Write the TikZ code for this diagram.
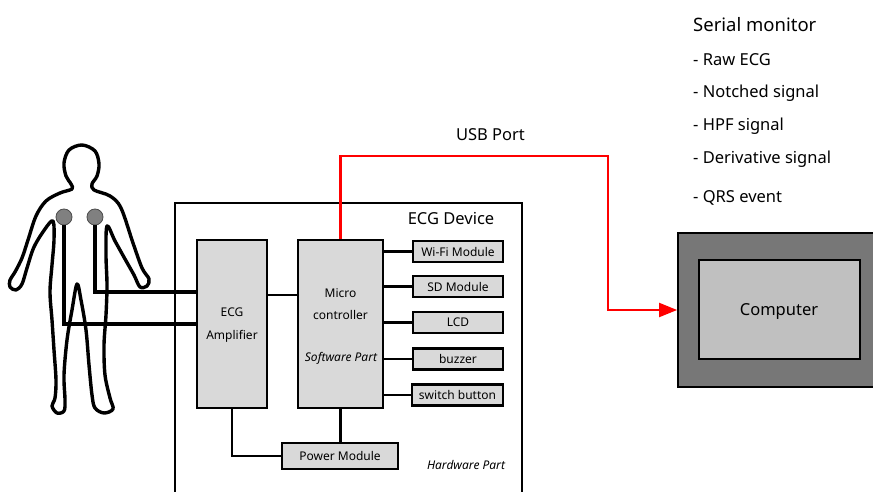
\documentclass[tikz,border=0pt]{standalone}
\usepackage{fontspec}
\setmainfont{Noto Sans}
\usetikzlibrary{arrows.meta}

\definecolor{boxgray}{HTML}{D9D9D9}
\definecolor{pcframe}{HTML}{777777}
\definecolor{pcscreen}{HTML}{C0C0C0}
\definecolor{padgray}{HTML}{808080}

\tikzset{
  box/.style={draw, line width=2.3pt, fill=boxgray, inner sep=0pt},
  modbox/.style={box, minimum width=90pt, minimum height=21pt, font=\fontsize{12}{14}\selectfont},
  small/.style={font=\fontsize{12}{14}\selectfont, inner sep=0pt},
  big/.style={font=\fontsize{16.5}{20}\selectfont, inner sep=0pt},
  link/.style={line width=2.3pt},
  wire/.style={line width=3.4pt},
  usb/.style={red, line width=2.1pt, -{Triangle[length=18pt,width=14pt]}},
  pad/.style={circle, draw=black!70, line width=0.8pt, fill=padgray, minimum size=16pt, inner sep=0pt}
}

\begin{document}
\begin{tikzpicture}[x=1pt, y=-1pt]
            \useasboundingbox (0,0) rectangle (873,492);
            \clip (0,0) rectangle (873,492);
            % person with two chest electrodes
            \draw [line width=3.4pt, fill=white, line join=round] plot [smooth cycle, tension=0.55] coordinates {
              (92,184) (97,176) (99,164) (95,151) (82,145) (69,150) (64,163) (66,176) (71,184)
              (72,189) (60,193) (46,201) (36,216) (28,240) (22,258) (15,272) (10,280) (10,287) (16,290) (22,284)
              (27,268) (34,247) (45,229) (53,221)
              (54,240) (52,265) (50,292) (52,320) (54,350) (56,380) (55,398) (52,406) (57,413) (64,411) (65,400)
              (64,375) (67,340) (72,310) (77,284)
              (81,300) (86,330) (89,365) (92,395) (95,408) (104,413) (113,409) (110,398)
              (105,375) (104,345) (106,315) (107,285) (106,255) (107,226)
              (115,241) (125,259) (134,275) (140,287) (147,286) (149,279) (142,268)
              (133,243) (121,208) (110,196) (94,190)};
            \node [pad] (eL) at (64,217) {};
            \node [pad] (eR) at (95,217) {};

            % hardware enclosure
            \draw [line width=1.8pt] (175,500) -- (175,203) -- (522,203) -- (522,500);
            \node [big] (devname) at (451,219) {ECG Device};
            \node [small] (hwpart) at (466,465) {\itshape Hardware Part};

            \node [box, minimum width=70pt, minimum height=168pt] (amp) at (232,324) {};
            \node [small, align=center, font=\fontsize{12}{23}\selectfont] (amptext) at (232,325) {ECG\\Amplifier};
            \node [box, minimum width=85pt, minimum height=168pt] (mcu) at (340.5,324) {};
            \node [small, align=center, font=\fontsize{12}{22}\selectfont] (mcutext) at (340.5,304) {Micro\\controller};
            \node [small] (swpart) at (341,358) {\itshape Software Part};

            \node [modbox] (wifi) at (458,251.5) {Wi-Fi Module};
            \node [modbox] (sd) at (458,286.5) {SD Module};
            \node [modbox] (lcd) at (458,322.5) {LCD};
            \node [modbox] (buzz) at (458,359) {buzzer};
            \node [modbox, minimum width=91pt] (sw) at (457.5,395) {switch button};
            \node [box, minimum width=116pt, minimum height=26pt, font=\fontsize{12}{14}\selectfont] (pwr) at (340,456) {Power Module};

            \draw [link] (amp.east |- 0,295) -- (mcu.west |- 0,295);
            \foreach \m in {wifi, sd, lcd, buzz, sw}
              \draw [link] (mcu.east |- \m) -- (\m.west);
            \draw [link] (mcu.south) -- (mcu.south |- pwr.north);
            \draw [link] (amp.south) |- (pwr.west);

            % electrode leads into the amplifier
            \draw [wire] (eL.south) |- (amp.west);
            \draw [wire] (eR.south) |- ([yshift=32pt]amp.west);

            % computer and USB link
            \node [draw, line width=1.8pt, fill=pcframe, minimum width=207pt, minimum height=154pt, inner sep=0pt] (pc) at (781.5,310) {};
            \node [draw, line width=1.8pt, fill=pcscreen, minimum width=161pt, minimum height=99pt, inner sep=0pt] (screen) at (779.5,309.5) {};
            \node [big] (pcname) at (779,312) {Computer};
            \draw [usb] (mcu.north) |- (608,156) |- (pc.west);
            \node [big] (usbtext) at (490.5,135) {USB Port};

            % serial monitor outputs
            \node [anchor=base west, inner sep=0pt, font=\fontsize{18.5}{22}\selectfont] (sermon) at (693,31.7) {Serial monitor};
            \node [big, anchor=base west] (raw) at (693,65.7) {- Raw ECG};
            \node [big, anchor=base west] (notch) at (693,97.7) {- Notched signal};
            \node [big, anchor=base west] (hpf) at (693,130.7) {- HPF signal};
            \node [big, anchor=base west] (deriv) at (693,164) {- Derivative signal};
            \node [big, anchor=base west] (qrs) at (693,202) {- QRS event};
        \end{tikzpicture}
\end{document}
